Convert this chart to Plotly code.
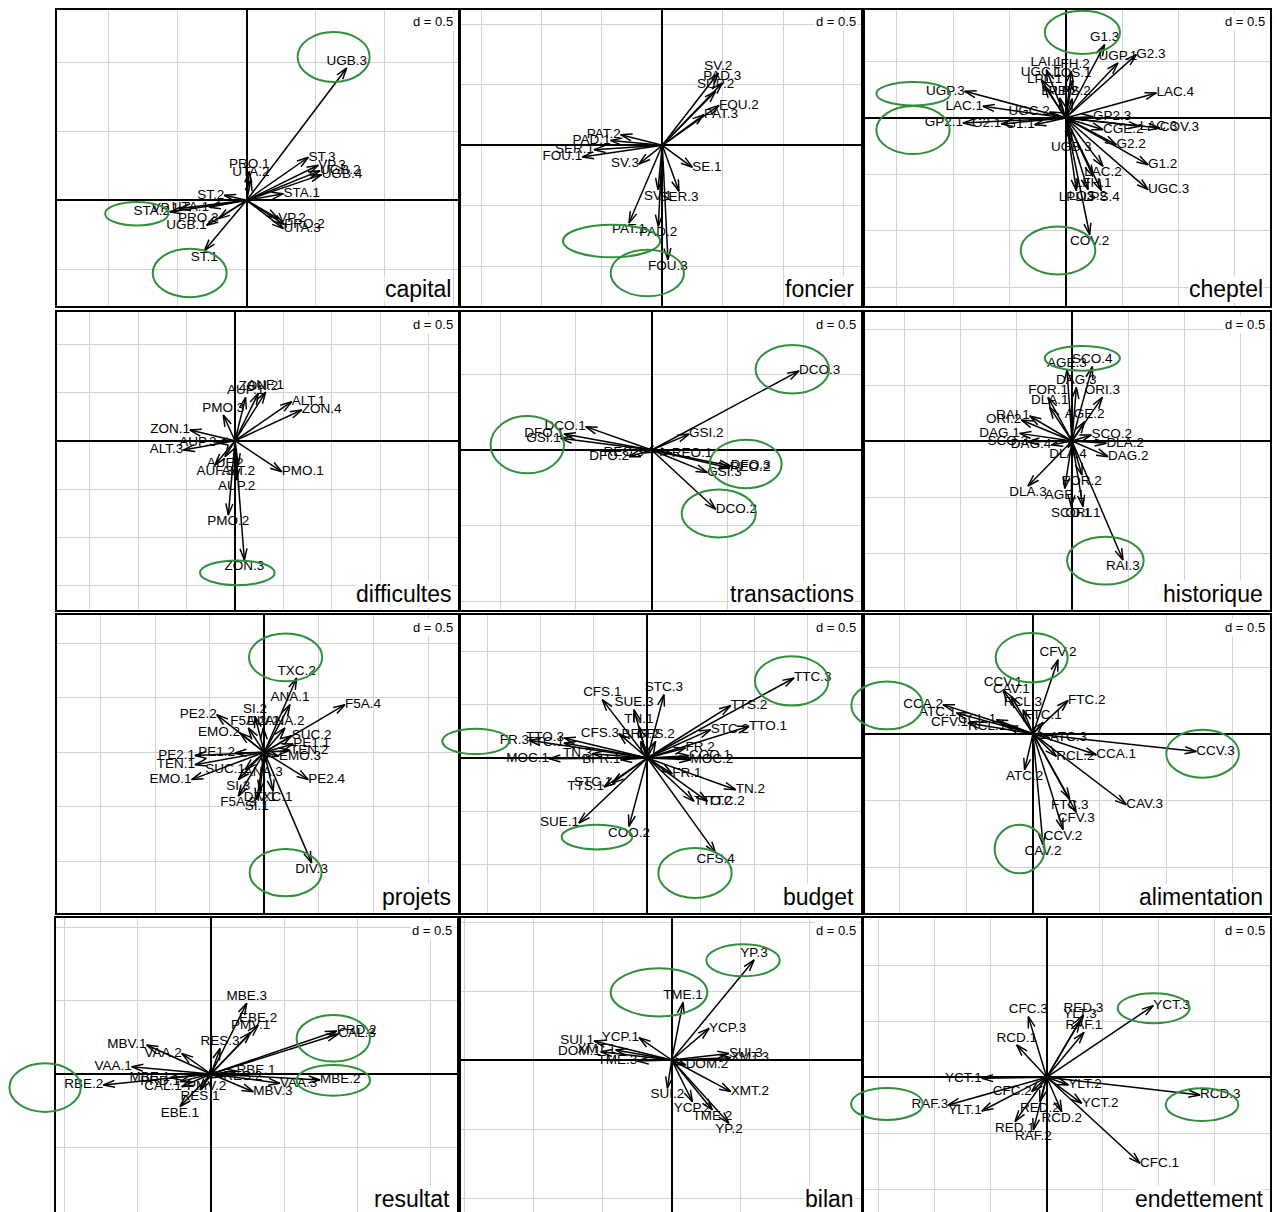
import math
import plotly.graph_objects as go

# ---------------------------------------------------------------------------
# Coordinates of the modalities (arrow tips) on the first factorial plane,
# one small set of arrays per thematic table.
# ---------------------------------------------------------------------------
capital_labels = ["UGB.3", "ST.1", "ST.3", "VP.3", "UGB.2", "UGB.4", "STA.1", "VP.2", "PRO.2",
                  "UTA.3", "PRO.1", "UTA.2", "ST.2", "STA.2", "VP.1", "UTA.1", "PRO.3", "UGB.1"]
capital_x = [0.725, -0.307, 0.447, 0.519, 0.531, 0.543, 0.266, 0.229, 0.273,
             0.266, 0.019, 0.031, -0.162, -0.556, -0.490, -0.273, -0.205, -0.290]
capital_y = [0.959, -0.365, 0.312, 0.254, 0.215, 0.186, 0.048, -0.133, -0.176,
             -0.205, 0.210, 0.150, 0.036, -0.085, -0.060, -0.051, -0.133, -0.181]

foncier_labels = ["SV.2", "PAD.3", "SUP.2", "FOU.2", "PAT.3", "PAT.2", "PAD.1", "SER.1",
                  "FOU.1", "SV.3", "SE.1", "SV.1", "SER.3", "PAT.1", "PAD.2", "FOU.3"]
foncier_x = [0.464, 0.497, 0.442, 0.470, 0.345, -0.345, -0.428, -0.566,
             -0.663, -0.193, 0.249, -0.036, 0.138, -0.276, -0.033, 0.047]
foncier_y = [0.599, 0.517, 0.448, 0.331, 0.254, 0.088, 0.039, -0.036,
             -0.097, -0.155, -0.182, -0.367, -0.381, -0.644, -0.671, -0.948]

cheptel_labels = ["G1.3", "UGP.1", "G2.3", "LAI.1", "LFH.2", "UGC.1", "LOS.1", "LPL.1",
                  "LPB.2", "LPS.2", "UGP.3", "LAC.1", "UGC.2", "GP2.1", "G2.1", "G1.1",
                  "LAC.4", "GP2.3", "CGE.2", "LAC.3", "COV.3", "G2.2", "G1.2", "UGC.3",
                  "UGB.3", "LAC.2", "LFH.1", "LPL.3", "LOS.2", "LPS.4", "COV.2"]
cheptel_x = [0.346, 0.464, 0.627, -0.172, 0.050, -0.216, 0.059, -0.186,
             -0.053, 0.059, -0.896, -0.734, -0.142, -0.911, -0.571, -0.275,
             0.805, 0.243, 0.331, 0.657, 0.834, 0.450, 0.731, 0.731,
             0.050, 0.331, 0.243, 0.095, 0.198, 0.317, 0.213]
cheptel_y = [0.651, 0.488, 0.562, 0.429, 0.414, 0.340, 0.331, 0.281,
             0.178, 0.172, 0.237, 0.104, 0.053, -0.044, -0.053, -0.059,
             0.222, 0.012, -0.104, -0.074, -0.089, -0.237, -0.414, -0.636,
             -0.207, -0.429, -0.518, -0.645, -0.636, -0.645, -1.036]

difficultes_labels = ["AUP.1", "ZON.2", "AUF.1", "PMO.3", "ALT.1", "ZON.4", "ZON.1", "AUP.3",
                      "ALT.3", "AUF.2", "AUF.3", "ALT.2", "AUP.2", "PMO.1", "PMO.2", "ZON.3"]
difficultes_x = [0.110, 0.241, 0.317, -0.121, 0.586, 0.690, -0.466, -0.190,
                 -0.534, -0.103, -0.207, 0.034, 0.017, 0.483, -0.069, 0.097]
difficultes_y = [0.448, 0.490, 0.503, 0.266, 0.403, 0.317, 0.110, -0.021,
                 -0.097, -0.166, -0.252, -0.252, -0.407, -0.321, -0.769, -1.234]

transactions_labels = ["DCO.3", "GSI.2", "DCO.1", "DFO.1", "GSI.1", "REO.3", "DFO.2",
                       "REO.1", "DFO.3", "REO.2", "GSI.3", "DCO.2"]
transactions_x = [0.971, 0.246, -0.435, -0.578, -0.600, -0.051, -0.149,
                  0.132, 0.521, 0.514, 0.367, 0.422]
transactions_y = [0.521, 0.105, 0.154, 0.105, 0.077, -0.018, -0.044,
                  -0.022, -0.105, -0.119, -0.149, -0.391]

historique_labels = ["SCO.4", "AGE.3", "DAG.3", "FOR.1", "ORI.3", "DLA.1", "AGE.2", "RAI.1",
                     "ORI.2", "DAG.1", "SCO.3", "DAG.4", "SCO.2", "DLA.2", "DAG.2", "DLA.4",
                     "FOR.2", "DLA.3", "AGE.1", "SCO.1", "ORI.1", "RAI.3"]
historique_x = [0.182, -0.045, 0.039, -0.214, 0.271, -0.199, 0.113, -0.378,
                -0.452, -0.467, -0.393, -0.185, 0.173, 0.307, 0.321, -0.036,
                0.089, -0.393, -0.065, -0.006, 0.098, 0.455]
historique_y = [0.664, 0.634, 0.479, 0.390, 0.390, 0.301, 0.173, 0.223,
                0.188, 0.068, -0.006, -0.036, 0.054, -0.021, -0.140, -0.057,
                -0.304, -0.402, -0.423, -0.586, -0.586, -1.063]

projets_labels = ["TXC.2", "ANA.1", "F5A.4", "PE2.2", "SI.2", "F5A.2", "DIV.2", "ANA.2",
                  "EMO.2", "SUC.2", "PE1.1", "TEN.2", "EMO.3", "PE2.1", "PE1.2", "TEN.1",
                  "SUC.1", "EMO.1", "ANA.3", "PE2.4", "SI.3", "TXC.1", "DIV.1", "F5A.3",
                  "SI.1", "DIV.3"]
projets_x = [0.296, 0.235, 0.738, -0.436, -0.085, -0.146, -0.009, 0.189,
             -0.223, 0.250, 0.265, 0.235, 0.134, -0.634, -0.268, -0.634,
             -0.177, -0.665, -0.009, 0.402, -0.238, 0.082, -0.040, -0.238,
             -0.070, 0.433]
projets_y = [0.680, 0.436, 0.436, 0.345, 0.329, 0.223, 0.223, 0.223,
             0.177, 0.152, 0.076, 0.018, -0.037, -0.030, -0.006, -0.113,
             -0.159, -0.250, -0.128, -0.250, -0.250, -0.357, -0.357, -0.402,
             -0.433, -1.012]

budget_labels = ["TTC.3", "STC.3", "CFS.1", "SUE.3", "TN.1", "TTS.2", "STC.2", "TTO.1",
                 "CFS.3", "BFR.2", "CFS.2", "FR.3", "TTO.3", "TTC.1", "MOC.1", "TN.3",
                 "BFR.1", "FR.2", "COO.1", "MOC.2", "FR.1", "TN.2", "TTO.2", "TTC.2",
                 "TTS.1", "STC.1", "SUE.1", "COO.2", "CFS.4"]
budget_x = [1.375, 0.156, -0.422, -0.125, -0.078, 0.781, 0.594, 0.953,
            -0.266, -0.063, 0.078, -1.109, -0.781, -0.781, -0.922, -0.516,
            -0.250, 0.359, 0.391, 0.406, 0.234, 0.828, 0.438, 0.563,
            -0.406, -0.328, -0.641, -0.172, 0.641]
budget_y = [0.750, 0.594, 0.547, 0.453, 0.297, 0.491, 0.266, 0.297,
            0.228, 0.156, 0.156, 0.166, 0.188, 0.141, -0.006, 0.041,
            -0.016, 0.094, 0.022, -0.016, -0.147, -0.297, -0.406, -0.406,
            -0.272, -0.234, -0.609, -0.641, -0.891]

alimentation_labels = ["CFV.2", "CCV.1", "CAV.1", "RCL.3", "FTC.2", "FTC.1", "CCA.2", "ATC.1",
                       "CFV.1", "CCL.1", "RCL.1", "ATC.3", "RCL.2", "CCA.1", "CCV.3", "ATC.2",
                       "CAV.3", "FTC.3", "CFV.3", "CCV.2", "CAV.2"]
alimentation_x = [0.188, -0.225, -0.163, -0.075, 0.263, 0.075, -0.675, -0.575,
                  -0.488, -0.275, -0.200, 0.125, 0.175, 0.475, 1.225, -0.063,
                  0.700, 0.275, 0.325, 0.225, 0.075]
alimentation_y = [0.555, 0.330, 0.280, 0.180, 0.250, 0.085, 0.218, 0.155,
                  0.080, 0.105, 0.055, -0.033, -0.170, -0.158, -0.133, -0.270,
                  -0.533, -0.490, -0.590, -0.720, -0.833]

resultat_labels = ["MBE.3", "EBE.2", "PMV.1", "RES.3", "PRD.2", "CAL.3", "MBV.1", "VAA.2",
                   "VAA.1", "RBE.2", "MBE.1", "PRD.1", "CAL.1", "PMV.2", "RES.1", "EBE.1",
                   "RBE.1", "RES.2", "MBV.3", "VAA.3", "MBE.2"]
resultat_x = [0.244, 0.323, 0.271, 0.062, 0.859, 0.870, -0.440, -0.200,
              -0.542, -0.736, -0.280, -0.212, -0.200, -0.030, -0.075, -0.212,
              0.175, 0.084, 0.289, 0.471, 0.745]
resultat_y = [0.483, 0.335, 0.285, 0.175, 0.294, 0.273, 0.198, 0.141,
              0.050, -0.075, -0.025, -0.052, -0.087, -0.041, -0.109, -0.223,
              0.020, -0.018, -0.121, -0.064, -0.041]

bilan_labels = ["YP.3", "TME.1", "YCP.3", "YCP.1", "SUI.1", "DOM.1", "XMT.1", "TME.3",
                "SUI.3", "XMT.3", "DOM.2", "SUI.2", "XMT.2", "YCP.2", "TME.2", "YP.2"]
bilan_x = [0.597, 0.082, 0.271, -0.237, -0.563, -0.514, -0.406, -0.249,
           0.415, 0.428, 0.101, -0.031, 0.428, 0.150, 0.295, 0.415]
bilan_y = [0.725, 0.418, 0.229, 0.162, 0.138, 0.060, 0.072, -0.007,
           0.048, 0.017, -0.036, -0.205, -0.229, -0.302, -0.362, -0.459]

endettement_labels = ["YCT.3", "CFC.3", "RED.3", "YLT.3", "RAF.1", "RCD.1", "YCT.1", "CFC.2",
                      "RAF.3", "YLT.1", "RED.1", "RAF.2", "RED.2", "RCD.2", "YLT.2", "YCT.2",
                      "RCD.3", "CFC.1"]
endettement_x = [0.952, -0.164, 0.327, 0.298, 0.333, -0.268, -0.580, -0.134,
                 -0.878, -0.580, -0.283, -0.119, -0.060, 0.134, 0.193, 0.313,
                 1.369, 0.833]
endettement_y = [0.640, 0.542, 0.557, 0.503, 0.402, 0.289, -0.009, -0.128,
                 -0.247, -0.301, -0.396, -0.470, -0.217, -0.307, -0.068, -0.232,
                 -0.158, -0.768]

# Highlighted modalities: ellipses (centre x, centre y, radius x, radius y) in plane units
capital_rings = [(0.630, 1.039, 0.261, 0.181), (-0.797, -0.097, 0.229, 0.085),
                 (-0.413, -0.527, 0.268, 0.176)]
foncier_rings = [(-0.420, -0.793, 0.403, 0.135), (-0.124, -1.058, 0.304, 0.193)]
cheptel_rings = [(0.148, 0.760, 0.334, 0.192), (-1.352, 0.216, 0.328, 0.104),
                 (-1.355, -0.107, 0.325, 0.213), (-0.068, -1.175, 0.331, 0.213)]
difficultes_rings = [(0.024, -1.366, 0.386, 0.128)]
transactions_rings = [(-0.820, 0.035, 0.242, 0.189), (0.927, 0.532, 0.242, 0.160),
                      (0.620, -0.092, 0.237, 0.160), (0.442, -0.418, 0.244, 0.158)]
historique_rings = [(0.092, 0.738, 0.336, 0.110), (0.298, -1.068, 0.342, 0.214)]
projets_rings = [(0.195, 0.869, 0.335, 0.219), (0.195, -1.101, 0.329, 0.216)]
budget_rings = [(1.353, 0.722, 0.344, 0.231), (-1.609, 0.156, 0.3125, 0.119),
                (-0.472, -0.741, 0.331, 0.116), (0.447, -1.078, 0.344, 0.234)]
alimentation_rings = [(-0.010, 0.570, 0.270, 0.185), (-1.095, 0.2125, 0.268, 0.180),
                      (1.2725, -0.150, 0.2725, 0.180), (-0.100, -0.865, 0.1875, 0.1825)]
resultat_rings = [(-1.134, -0.093, 0.244, 0.166), (0.836, 0.244, 0.251, 0.159),
                  (0.836, -0.043, 0.251, 0.105)]
bilan_rings = [(0.517, 0.722, 0.266, 0.116), (-0.092, 0.490, 0.350, 0.174)]
endettement_rings = [(0.955, 0.616, 0.321, 0.134), (-1.426, -0.238, 0.321, 0.143),
                     (1.387, -0.244, 0.324, 0.146)]

# ---------------------------------------------------------------------------
# Page geometry: panel frame (left, top, right, bottom) and origin in pixels,
# plus the pixel length of one unit (two grid cells of d = 0.5).
# ---------------------------------------------------------------------------
W, H = 1277, 1212
PANELS = [
    dict(title="capital", lab=capital_labels, x=capital_x, y=capital_y, rings=capital_rings,
         box=(56.5, 9.5, 457.5, 305.5), origin=(246.7, 200.3), unit=138.0),
    dict(title="foncier", lab=foncier_labels, x=foncier_x, y=foncier_y, rings=foncier_rings,
         box=(460.5, 9.5, 860.5, 305.5), origin=(662.3, 145.3), unit=120.7),
    dict(title="cheptel", lab=cheptel_labels, x=cheptel_x, y=cheptel_y, rings=cheptel_rings,
         box=(864.5, 9.5, 1270.0, 305.5), origin=(1065.7, 118.0), unit=112.7),
    dict(title="difficultes", lab=difficultes_labels, x=difficultes_x, y=difficultes_y,
         rings=difficultes_rings,
         box=(56.5, 311.5, 457.5, 610.0), origin=(235.0, 440.7), unit=96.7),
    dict(title="transactions", lab=transactions_labels, x=transactions_x, y=transactions_y,
         rings=transactions_rings,
         box=(460.5, 311.5, 860.5, 610.0), origin=(651.7, 450.0), unit=151.7),
    dict(title="historique", lab=historique_labels, x=historique_x, y=historique_y,
         rings=historique_rings,
         box=(864.5, 311.5, 1270.0, 610.0), origin=(1072.0, 441.0), unit=112.0),
    dict(title="projets", lab=projets_labels, x=projets_x, y=projets_y, rings=projets_rings,
         box=(56.5, 614.5, 457.5, 912.5), origin=(264.3, 752.3), unit=109.3, hzero=False),
    dict(title="budget", lab=budget_labels, x=budget_x, y=budget_y, rings=budget_rings,
         box=(460.5, 614.5, 860.5, 912.5), origin=(647.3, 758.0), unit=106.7),
    dict(title="alimentation", lab=alimentation_labels, x=alimentation_x, y=alimentation_y,
         rings=alimentation_rings,
         box=(864.5, 614.5, 1270.0, 912.5), origin=(1033.0, 733.7), unit=133.3),
    dict(title="resultat", lab=resultat_labels, x=resultat_x, y=resultat_y, rings=resultat_rings,
         box=(55.5, 918.0, 456.5, 1212.0), origin=(211.0, 1074.0), unit=146.3, open_bottom=True),
    dict(title="bilan", lab=bilan_labels, x=bilan_x, y=bilan_y, rings=bilan_rings,
         box=(460.5, 918.0, 860.5, 1212.0), origin=(671.7, 1060.0), unit=138.0, open_bottom=True),
    dict(title="endettement", lab=endettement_labels, x=endettement_x, y=endettement_y,
         rings=endettement_rings,
         box=(863.5, 918.0, 1269.5, 1212.0), origin=(1046.7, 1077.3), unit=112.0,
         open_bottom=True),
]

FONT = "Liberation Sans, Arial, Helvetica, sans-serif"
GREEN = "#2f8f3a"
GRID = "#d2d2d2"
HEAD_PX = 12.0                  # arrow head length in pixels
HEAD_ANGLE = math.radians(17)   # half opening of the arrow head


def label_position(x, y):
    """Place the label outside the arrow tip, following the arrow's main direction."""
    if x > y and x > -y:
        return "middle right"
    if x > y and x <= -y:
        return "bottom center"
    if x <= y and x <= -y:
        return "middle left"
    return "top center"


fig = go.Figure()
shapes, annotations = [], []

for i, p in enumerate(PANELS, start=1):
    left, top, right, bottom = p["box"]
    ox, oy = p["origin"]
    k = p["unit"]
    sfx = "" if i == 1 else str(i)
    xid, yid = "x" + sfx, "y" + sfx

    common = dict(showgrid=True, gridcolor=GRID, gridwidth=1, dtick=0.5, tick0=0,
                  showticklabels=False, ticks="", zeroline=True, zerolinecolor="black",
                  zerolinewidth=1.8, showline=True, linecolor="black", linewidth=2,
                  fixedrange=True)
    xaxis = dict(common, domain=[left / W, right / W],
                 range=[(left - ox) / k, (right - ox) / k], anchor=yid, mirror=True)
    if p.get("open_bottom"):
        xaxis.update(side="top", mirror=False)
    yaxis = dict(common, domain=[1 - bottom / H, 1 - top / H],
                 range=[(oy - bottom) / k, (oy - top) / k], anchor=xid, mirror=True)
    if p.get("hzero") is False:
        yaxis.update(zeroline=False)
    fig.update_layout(**{"xaxis" + sfx: xaxis, "yaxis" + sfx: yaxis})

    # arrows: shaft from the origin plus an open head drawn as two barbs
    lx, ly = [], []
    hl = HEAD_PX / k
    for x, y in zip(p["x"], p["y"]):
        th = math.atan2(y, x)
        lx += [0, x, None]
        ly += [0, y, None]
        a1 = th + math.pi + HEAD_ANGLE
        a2 = th + math.pi - HEAD_ANGLE
        lx += [x + hl * math.cos(a1), x, x + hl * math.cos(a2), None]
        ly += [y + hl * math.sin(a1), y, y + hl * math.sin(a2), None]
    fig.add_trace(go.Scatter(x=lx, y=ly, mode="lines", xaxis=xid, yaxis=yid,
                             line=dict(color="black", width=1.5), hoverinfo="skip",
                             showlegend=False))
    fig.add_trace(go.Scatter(x=p["x"], y=p["y"], mode="text", text=p["lab"],
                             textposition=[label_position(a, b) for a, b in zip(p["x"], p["y"])],
                             textfont=dict(family=FONT, size=13.5, color="black"),
                             xaxis=xid, yaxis=yid, cliponaxis=False, hoverinfo="text",
                             showlegend=False))

    # grid scale and table name
    annotations.append(dict(xref="paper", yref="paper", x=(right - 3) / W, y=1 - (top + 3) / H,
                            xanchor="right", yanchor="top", text="d = 0.5", showarrow=False,
                            bgcolor="white", borderpad=1,
                            font=dict(family=FONT, size=13, color="black")))
    tb = bottom + 1 if p.get("open_bottom") else bottom - 2
    annotations.append(dict(xref="paper", yref="paper", x=(right - 6) / W, y=1 - tb / H,
                            xanchor="right", yanchor="bottom", text=p["title"], showarrow=False,
                            bgcolor="white", borderpad=0,
                            font=dict(family=FONT, size=23, color="black")))

    # highlighted modalities (ellipses are not clipped to the panel)
    for cx, cy, rx, ry in p["rings"]:
        px0, px1 = ox + (cx - rx) * k, ox + (cx + rx) * k
        py0, py1 = oy - (cy + ry) * k, oy - (cy - ry) * k
        shapes.append(dict(type="circle", xref="paper", yref="paper",
                           x0=px0 / W, x1=px1 / W, y0=1 - py1 / H, y1=1 - py0 / H,
                           line=dict(color=GREEN, width=2), layer="above"))

fig.update_layout(width=W, height=H, margin=dict(l=0, r=0, t=0, b=0),
                  paper_bgcolor="white", plot_bgcolor="white",
                  shapes=shapes, annotations=annotations, showlegend=False,
                  font=dict(family=FONT))

fig.write_html("out.html")
